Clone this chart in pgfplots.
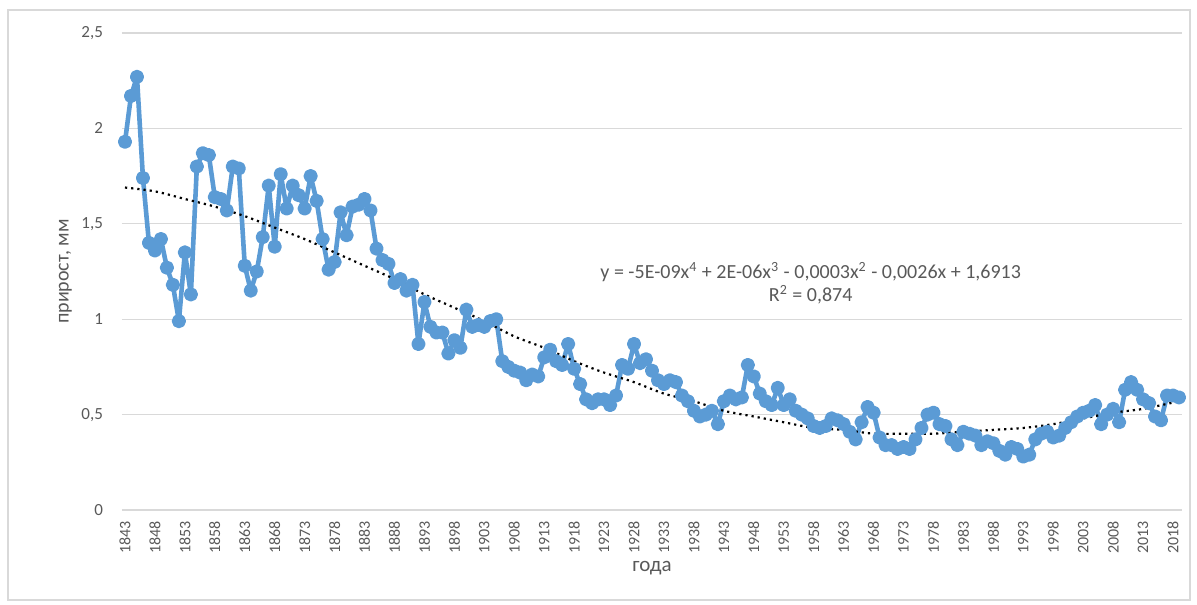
\documentclass[border=0pt]{standalone}
\usepackage{pgfplots}
\pgfplotsset{compat=1.18}
\usepackage{pgfplotstable}
\usepackage{fontspec}
\setmainfont{Carlito}
\definecolor{xlblue}{HTML}{5B9BD5}
\definecolor{txtgray}{HTML}{595959}
\definecolor{gridgray}{HTML}{D9D9D9}

\pgfplotstableread{
year val
1843 1.93
1844 2.17
1845 2.27
1846 1.74
1847 1.40
1848 1.36
1849 1.42
1850 1.27
1851 1.18
1852 0.99
1853 1.35
1854 1.13
1855 1.80
1856 1.87
1857 1.86
1858 1.64
1859 1.63
1860 1.57
1861 1.80
1862 1.79
1863 1.28
1864 1.15
1865 1.25
1866 1.43
1867 1.70
1868 1.38
1869 1.76
1870 1.58
1871 1.70
1872 1.65
1873 1.58
1874 1.75
1875 1.62
1876 1.42
1877 1.26
1878 1.30
1879 1.56
1880 1.44
1881 1.59
1882 1.60
1883 1.63
1884 1.57
1885 1.37
1886 1.31
1887 1.29
1888 1.19
1889 1.21
1890 1.15
1891 1.18
1892 0.87
1893 1.09
1894 0.96
1895 0.93
1896 0.93
1897 0.82
1898 0.89
1899 0.85
1900 1.05
1901 0.96
1902 0.97
1903 0.96
1904 0.99
1905 1.00
1906 0.78
1907 0.75
1908 0.73
1909 0.72
1910 0.68
1911 0.71
1912 0.70
1913 0.80
1914 0.84
1915 0.78
1916 0.76
1917 0.87
1918 0.74
1919 0.66
1920 0.58
1921 0.56
1922 0.58
1923 0.58
1924 0.55
1925 0.60
1926 0.76
1927 0.74
1928 0.87
1929 0.77
1930 0.79
1931 0.73
1932 0.68
1933 0.66
1934 0.68
1935 0.67
1936 0.60
1937 0.57
1938 0.52
1939 0.49
1940 0.50
1941 0.52
1942 0.45
1943 0.57
1944 0.60
1945 0.58
1946 0.59
1947 0.76
1948 0.70
1949 0.61
1950 0.57
1951 0.55
1952 0.64
1953 0.55
1954 0.58
1955 0.52
1956 0.50
1957 0.48
1958 0.44
1959 0.43
1960 0.44
1961 0.48
1962 0.47
1963 0.45
1964 0.41
1965 0.37
1966 0.46
1967 0.54
1968 0.51
1969 0.38
1970 0.34
1971 0.34
1972 0.32
1973 0.33
1974 0.32
1975 0.37
1976 0.43
1977 0.50
1978 0.51
1979 0.45
1980 0.44
1981 0.37
1982 0.34
1983 0.41
1984 0.40
1985 0.39
1986 0.34
1987 0.36
1988 0.35
1989 0.31
1990 0.29
1991 0.33
1992 0.32
1993 0.28
1994 0.29
1995 0.37
1996 0.40
1997 0.41
1998 0.38
1999 0.39
2000 0.43
2001 0.46
2002 0.49
2003 0.51
2004 0.52
2005 0.55
2006 0.45
2007 0.50
2008 0.53
2009 0.46
2010 0.63
2011 0.67
2012 0.63
2013 0.58
2014 0.56
2015 0.49
2016 0.47
2017 0.60
2018 0.60
2019 0.59
}\growth

% trend line
\pgfplotstableread{
year val
1843 1.69
1848 1.67
1853 1.63
1858 1.59
1863 1.54
1868 1.48
1873 1.42
1878 1.35
1883 1.28
1888 1.21
1893 1.13
1898 1.06
1903 0.99
1908 0.91
1913 0.85
1918 0.78
1923 0.72
1928 0.67
1933 0.61
1938 0.57
1943 0.52
1948 0.49
1953 0.46
1958 0.43
1963 0.42
1968 0.40
1973 0.40
1978 0.40
1983 0.41
1988 0.42
1993 0.43
1998 0.45
2003 0.48
2008 0.51
2013 0.53
2019 0.57
}\trend

\begin{document}
\begin{tikzpicture}
\useasboundingbox (-61pt,-47pt) rectangle (537.5pt,255pt);
\draw[gridgray, line width=0.6pt] (-57pt,-45pt) rectangle (534pt,250pt);
\begin{axis}[
  at={(0,0)}, anchor=south west,
  scale only axis,
  width=530pt, height=238.5pt,
  xmin=1842.5, xmax=2019.5,
  ymin=0, ymax=2.5,
  xtick={1843,1848,...,2018},
  ytick={0,0.5,...,2.5},
  x tick label style={rotate=90, anchor=east, font=\fontsize{8}{8}\selectfont, text=txtgray},
  y tick label style={font=\fontsize{8.5}{9}\selectfont, text=txtgray},
  /pgf/number format/.cd, use comma, 1000 sep={}, assume math mode=true,
  /pgfplots/.cd,
  ymajorgrids, grid style={gridgray, line width=0.6pt},
  axis x line*=bottom, axis y line*=left,
  x axis line style={gridgray, line width=0.6pt, -},
  y axis line style={draw=none},
  major tick length=0pt,
  xticklabel shift=2pt,
  yticklabel shift=6pt,
  xlabel={года},
  ylabel={прирост, мм},
  xlabel style={font=\fontsize{10.5}{12}\selectfont, text=txtgray, yshift=3pt},
  ylabel style={font=\fontsize{10}{12}\selectfont, text=txtgray, yshift=-2pt},
  clip=false,
]
\addplot[xlblue, line width=2.3pt, line join=round, mark=*, mark size=2.4pt, mark options={solid, fill=xlblue, draw=xlblue}] table[x=year, y=val] {\growth};
\addplot[black, line width=1.1pt, dotted, smooth] table[x=year, y=val] {\trend};
\node[align=center, font=\fontsize{10}{11.5}\selectfont, text=txtgray] at (axis cs:1957.5,1.19)
  {y = -5E-09x\textsuperscript{4} + 2E-06x\textsuperscript{3} - 0,0003x\textsuperscript{2} - 0,0026x + 1,6913\\R\textsuperscript{2} = 0,874};
\end{axis}
\end{tikzpicture}
\end{document}
